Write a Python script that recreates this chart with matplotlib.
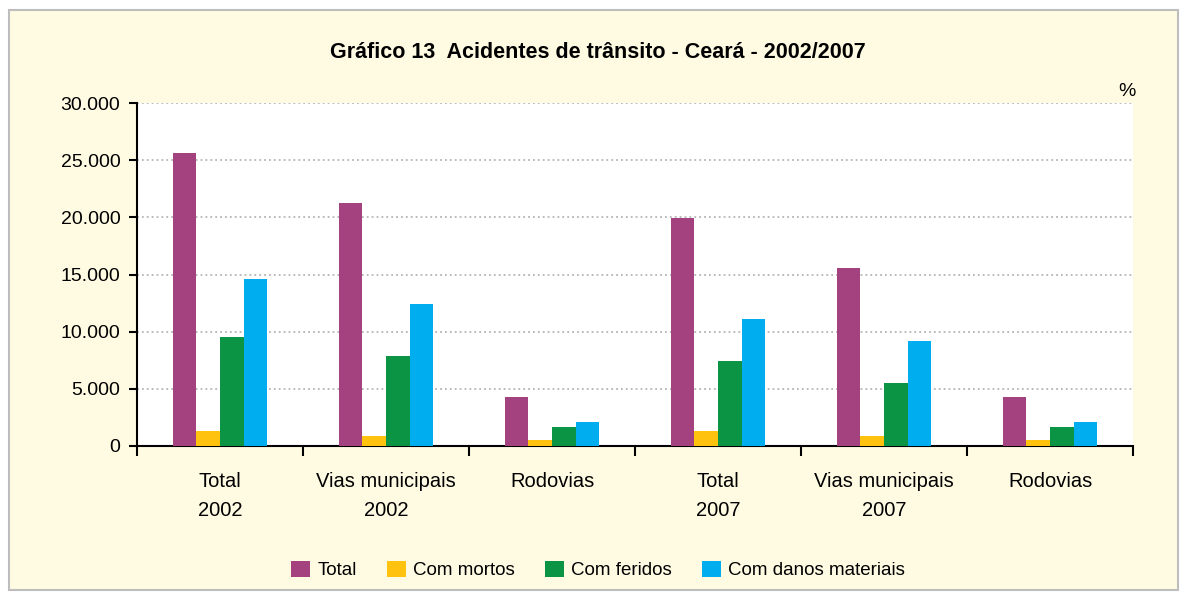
import numpy as np
import matplotlib.pyplot as plt
from matplotlib.patches import Rectangle
from matplotlib import font_manager

# dados
categorias = ["Total\n2002", "Vias municipais\n2002", "Rodovias",
              "Total\n2007", "Vias municipais\n2007", "Rodovias"]
total = [25600, 21230, 4310, 19950, 15570, 4310]
com_mortos = [1300, 900, 520, 1340, 870, 520]
com_feridos = [9550, 7850, 1690, 7440, 5500, 1690]
com_danos = [14600, 12450, 2130, 11110, 9190, 2130]
series = [("Total", total, "#A4427F"),
          ("Com mortos", com_mortos, "#FFC20E"),
          ("Com feridos", com_feridos, "#0A9444"),
          ("Com danos materiais", com_danos, "#00AEEF")]
yticks = [0, 5000, 10000, 15000, 20000, 25000, 30000]

nomes = {f.name for f in font_manager.fontManager.ttflist}
fam = "Liberation Sans Narrow" if "Liberation Sans Narrow" in nomes else "Liberation Sans"
plt.rcParams["font.family"] = [fam, "DejaVu Sans"]

fig = plt.figure(figsize=(11.81, 5.92), dpi=100)
fig.patch.set_facecolor("white")
fig.patches.append(Rectangle((9/1181, 2/592), 1169/1181, 580/592, transform=fig.transFigure,
                             facecolor="#FFFBE3", edgecolor="#BDBDBD", linewidth=1.5, zorder=-5))

ax = fig.add_axes([137/1181, 1 - 446/592, 996/1181, 343/592])
ax.set_zorder(2)
ax.set_facecolor("white")
x = np.arange(len(categorias))
w = 0.1416
for i, (nome, vals, cor) in enumerate(series):
    ax.bar(x + (i - 1.5) * w, vals, w, color=cor, label=nome, zorder=3)

ax.set_ylim(0, 30000)
ax.set_xlim(-0.5, 5.5)
ax.set_yticks(yticks)
ax.set_yticklabels([f"{v:,}".replace(",", ".") for v in yticks], fontsize=14)
ax.yaxis.grid(True, linestyle=(0, (1.2, 2)), color="#A8A8A8", linewidth=1.1, zorder=1)
ax.set_axisbelow(True)

ax.set_xticks(np.arange(-0.5, 6, 1))
ax.set_xticklabels([])
ax.set_xticks(x, minor=True)
ax.set_xticklabels(categorias, minor=True, fontsize=14.5, linespacing=1.65)
ax.tick_params(axis="x", which="minor", length=0, pad=19)
ax.tick_params(axis="x", which="major", length=7, width=1.5, direction="out")
ax.tick_params(axis="y", length=6, width=1.5, direction="out", pad=6)

for s in ["top", "right"]:
    ax.spines[s].set_visible(False)
for s in ["left", "bottom"]:
    ax.spines[s].set_linewidth(1.5)

fig.text(598/1181, 1 - 53/592, "Gráfico 13  Acidentes de trânsito - Ceará - 2002/2007",
         ha="center", va="center", fontsize=15.5, fontweight="bold")
fig.text(1127/1181, 1 - 91/592, "%", ha="center", va="center", fontsize=14)

fig.legend(loc="center", bbox_to_anchor=(598/1181, 1 - 570/592), ncol=4, frameon=False,
           fontsize=13.5, handlelength=1.0, handleheight=1.0, handletextpad=0.4, columnspacing=1.6)

fig.savefig("out.png", dpi=100)
